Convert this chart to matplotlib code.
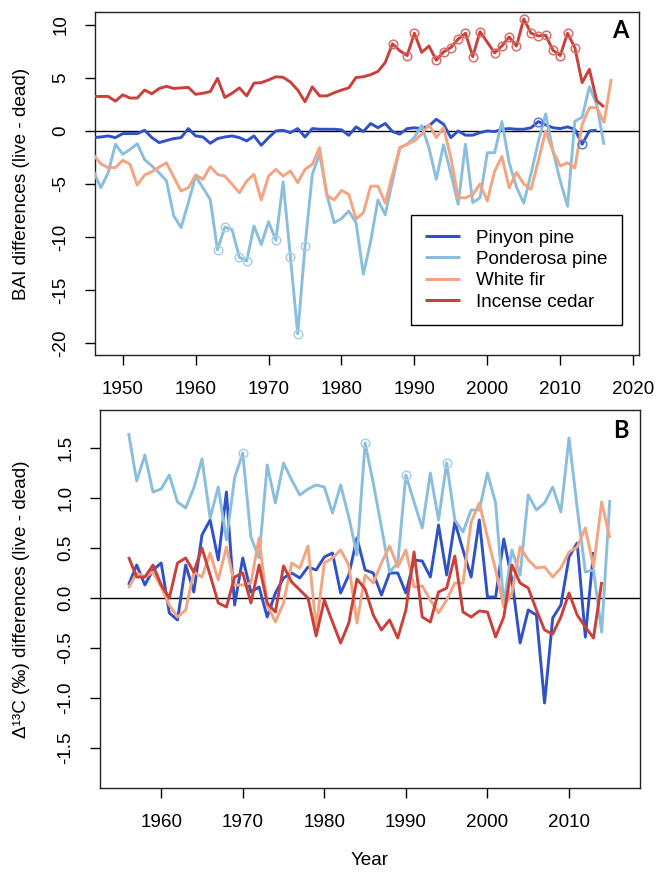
import numpy as np
import matplotlib
matplotlib.use('Agg')
import matplotlib.pyplot as plt

plt.rcParams['font.family'] = ['Liberation Sans', 'DejaVu Sans']
plt.rcParams['axes.unicode_minus'] = False

# ---------------- Panel A data: BAI differences (live - dead) ----------------
pinyon_a_start = 1946
pinyon_a = [-0.63, -0.57, -0.47, -0.63, -0.25, -0.25, -0.25, 0.06, -0.63, -1.1,
            -0.9, -0.72, -0.63, 0.22, -0.47, -0.57, -1.16, -0.72, -0.57, -0.47,
            -0.63, -0.94, -0.47, -1.35, -0.63, 0.0, 0.06, -0.16, 0.22, -0.57,
            0.22, 0.16, 0.16, 0.16, 0.1, -0.41, 0.38, -0.06, 0.7, 0.3,
            0.7, -0.06, -0.3, 0.22, 0.3, 0.22, 0.47, 1.1, 0.63, -0.63,
            0.0, -0.4, -0.4, -0.16, 0.0, -0.06, 0.16, 0.22, 0.16, 0.16,
            0.3, 0.88, 0.57, 0.3, 0.22, 0.38, 0.16, -1.26, 0.0, 0.06]
pinyon_a_sig = [2007, 2013]

ponderosa_a_start = 1946
ponderosa_a = [-3.8, -5.35, -3.95, -1.25, -2.2, -1.75, -1.2, -2.7, -3.3, -3.95,
               -4.7, -8.0, -9.1, -6.75, -4.25, -5.35, -6.45, -11.2, -9.05, -9.3,
               -11.9, -12.25, -8.95, -10.7, -8.55, -10.3, -4.8, -11.9, -19.1, -10.85,
               -4.1, -2.15, -6.0, -8.65, -8.25, -7.55, -8.65, -13.5, -10.4, -6.5,
               -7.9, -4.7, -1.6, -1.25, -0.6, 0.5, -1.6, -4.55, -1.3, -4.0,
               -6.9, -1.25, -6.75, -6.3, -2.05, -2.05, 0.88, -3.0, -5.3, -6.8,
               -4.0, -1.0, 1.6, -1.9, -4.7, -7.1, 0.9, 1.3, 4.15, 2.5, -1.3]
ponderosa_a_sig = [1963, 1964, 1966, 1967, 1971, 1973, 1974, 1975]

whitefir_a_start = 1946
whitefir_a = [-2.26, -3.1, -3.45, -3.45, -2.77, -3.14, -5.1, -4.15, -3.84, -3.4,
              -3.0, -4.34, -5.66, -5.35, -4.15, -4.56, -3.36, -4.09, -4.25, -5.03,
              -5.82, -4.72, -4.09, -6.5, -4.25, -3.62, -4.25, -3.77, -4.87, -3.62,
              -3.14, -1.57, -6.07, -6.5, -5.6, -5.97, -8.3, -7.7, -5.2, -5.2,
              -6.8, -4.1, -1.57, -1.26, -0.94, -0.3, 0.6, -0.63, 0.3, -2.5,
              -6.3, -6.3, -6.0, -5.0, -6.6, -3.8, -2.4, -5.35, -3.9, -5.0,
              -5.5, -2.8, 0.0, -1.9, -3.3, -3.0, -3.5, 0.6, 2.2, 2.2, 0.8, 4.9]

cedar_a_start = 1946
cedar_a = [3.25, 3.25, 3.25, 2.8, 3.4, 3.1, 3.1, 3.85, 3.5, 4.0,
           4.2, 4.0, 4.05, 4.1, 3.45, 3.55, 3.7, 4.95, 3.15, 3.55,
           4.05, 3.3, 4.5, 4.55, 4.8, 5.1, 5.05, 4.6, 3.85, 2.75,
           4.15, 3.3, 3.3, 3.6, 3.85, 4.05, 5.03, 5.1, 5.3, 5.6,
           6.45, 8.2, 7.55, 7.1, 9.2, 7.4, 8.0, 6.65, 7.45, 7.85,
           8.65, 9.2, 7.0, 9.35, 8.35, 7.35, 8.0, 8.85, 8.0, 10.55,
           9.2, 8.95, 9.0, 7.6, 7.1, 9.2, 7.85, 4.55, 5.8, 2.85, 2.25]
cedar_a_sig = [1987, 1989, 1990, 1993, 1994, 1995, 1996, 1997, 1998, 1999,
               2001, 2002, 2003, 2004, 2005, 2006, 2007, 2008, 2009, 2010,
               2011, 2012]

# ---------------- Panel B data: Delta13C differences (live - dead) ----------------
pinyon_b_start = 1956
pinyon_b = [0.13, 0.33, 0.13, 0.28, 0.35, -0.15, -0.22, 0.33, 0.06, 0.63,
            0.78, 0.38, 1.06, -0.07, 0.4, 0.06, 0.11, -0.19, 0.05, 0.2,
            0.25, 0.2, 0.31, 0.28, 0.41, 0.45, 0.05, 0.23, 0.6, 0.28,
            0.25, 0.03, 0.25, 0.25, 0.05, 0.38, 0.37, 0.21, 0.73, 0.23,
            0.76, 0.48, 0.21, 0.78, 0.01, 0.01, 0.59, 0.18, -0.45, -0.12,
            -0.17, -1.05, -0.2, -0.07, 0.41, 0.55, -0.39, 0.46]

ponderosa_b_start = 1956
ponderosa_b = [1.65, 1.17, 1.43, 1.06, 1.09, 1.23, 0.96, 0.9, 1.1, 1.39,
               0.8, 1.11, 0.58, 1.2, 1.45, 0.61, 0.4, 1.33, 0.95, 1.35,
               1.18, 1.03, 1.09, 1.13, 1.11, 0.85, 1.13, 0.81, 0.43, 1.55,
               1.15, 0.71, 0.26, 0.35, 1.23, 0.96, 0.7, 1.25, 0.78, 1.35,
               0.78, 0.66, 0.88, 0.88, 1.25, 0.95, -0.07, 0.48, 0.23, 1.03,
               0.88, 0.95, 1.11, 0.86, 1.6, 0.9, 0.26, 0.28, -0.34, 0.98]
ponderosa_b_sig = [1970, 1985, 1990, 1995]

whitefir_b_start = 1956
whitefir_b = [0.1, 0.25, 0.21, 0.26, 0.11, -0.07, -0.19, -0.12, 0.26, 0.21,
              0.45, 0.18, 0.51, 0.13, 0.13, 0.15, 0.6, -0.07, -0.24, -0.05,
              0.35, 0.3, 0.52, -0.3, 0.35, 0.4, 0.48, 0.33, -0.25, 0.23,
              0.15, 0.35, 0.52, 0.31, 0.48, 0.11, 0.12, -0.02, -0.15, -0.02,
              0.15, 0.15, 0.76, 0.95, 0.61, 0.28, -0.09, 0.05, 0.51, 0.38,
              0.3, 0.31, 0.21, 0.3, 0.46, 0.51, 0.7, 0.31, 0.96, 0.6]

cedar_b_start = 1956
cedar_b = [0.41, 0.21, 0.21, 0.33, 0.13, 0.0, 0.35, 0.4, 0.26, 0.5,
           0.23, -0.05, -0.09, 0.21, 0.25, -0.05, 0.33, -0.05, -0.14, 0.32,
           0.16, 0.08, 0.0, -0.38, -0.02, -0.24, -0.45, -0.25, 0.19, 0.09,
           -0.17, -0.32, -0.22, -0.4, -0.12, 0.46, -0.19, -0.24, 0.06, 0.1,
           0.42, -0.14, -0.19, -0.13, -0.14, -0.39, -0.19, 0.33, 0.15, 0.1,
           -0.12, -0.32, -0.36, -0.19, 0.05, -0.17, -0.29, -0.4, 0.16]

species = ['Pinyon pine', 'Ponderosa pine', 'White fir', 'Incense cedar']
colors = ['#3152C6', '#8BBEDC', '#F3A481', '#C9413A']
marker_colors = ['#5F7BD3', '#A9CFE5', '#F5B89C', '#D8706A']

xticks_a = [1950, 1960, 1970, 1980, 1990, 2000, 2010, 2020]
yticks_a = [10, 5, 0, -5, -10, -15, -20]
xticks_b = [1960, 1970, 1980, 1990, 2000, 2010]
yticks_b = [1.5, 1.0, 0.5, 0.0, -0.5, -1.0, -1.5]

FS = 13.6
LW = 2.1

fig = plt.figure(figsize=(6.57, 8.74), dpi=100)
W, H = 657.0, 874.0
axA = fig.add_axes([95 / W, 1 - 355 / H, (639 - 95) / W, (355 - 12) / H])
axB = fig.add_axes([100 / W, 1 - 788 / H, (640 - 100) / W, (788 - 410) / H])


def draw(ax, start, vals, color, mcolor, sig=None, label=None):
    vals = np.asarray(vals, dtype=float)
    yrs = np.arange(start, start + len(vals))
    ax.plot(yrs, vals, color=color, lw=LW, solid_joinstyle='round',
            solid_capstyle='butt', label=label, zorder=3)
    if sig:
        m = np.isin(yrs, sig)
        ax.plot(yrs[m], vals[m], linestyle='none', marker='o', ms=6.2,
                mfc='none', mec=mcolor, mew=1.1, zorder=4)


def style(ax, xlim, ylim, xt, yt, ytl, ylab, letter):
    ax.set_xlim(*xlim)
    ax.set_ylim(*ylim)
    ax.set_xticks(xt)
    ax.set_yticks(yt)
    ax.set_yticklabels(ytl)
    ax.tick_params(direction='out', length=7.5, width=1.0, labelsize=FS,
                   pad=11, top=False, right=False)
    for lab in ax.get_yticklabels():
        lab.set_rotation(90)
        lab.set_va('center')
    for sp in ax.spines.values():
        sp.set_linewidth(1.0)
        sp.set_color('#222222')
    ax.axhline(0, color='black', lw=1.0, zorder=2)
    ax.set_ylabel(ylab, fontsize=FS)
    ax.text(0.965, 0.945, letter, transform=ax.transAxes, ha='center', va='center',
            fontsize=17, fontweight='bold', family=['Lato', 'DejaVu Sans'])


# Panel A
draw(axA, pinyon_a_start, pinyon_a, colors[0], marker_colors[0], pinyon_a_sig, species[0])
draw(axA, ponderosa_a_start, ponderosa_a, colors[1], marker_colors[1], ponderosa_a_sig, species[1])
draw(axA, whitefir_a_start, whitefir_a, colors[2], marker_colors[2], None, species[2])
draw(axA, cedar_a_start, cedar_a, colors[3], marker_colors[3], cedar_a_sig, species[3])
style(axA, (1946.2, 2020.8), (-21.1, 11.2), xticks_a, yticks_a,
      [str(v) for v in yticks_a], 'BAI differences (live - dead)', 'A')
axA.yaxis.set_label_coords(-0.12, 0.5)

leg = axA.legend(loc='lower right', bbox_to_anchor=(0.969, 0.0875), borderaxespad=0,
                 fontsize=FS, handlelength=1.85, handletextpad=0.85, borderpad=0.75,
                 labelspacing=0.22, fancybox=False, framealpha=1, edgecolor='black')
leg.get_frame().set_linewidth(1.0)
for ln in leg.get_lines():
    ln.set_linewidth(2.2)

# Panel B
draw(axB, pinyon_b_start, pinyon_b, colors[0], marker_colors[0])
draw(axB, ponderosa_b_start, ponderosa_b, colors[1], marker_colors[1], ponderosa_b_sig)
draw(axB, whitefir_b_start, whitefir_b, colors[2], marker_colors[2])
draw(axB, cedar_b_start, cedar_b, colors[3], marker_colors[3])
style(axB, (1952.5, 2018.7), (-1.9, 1.88), xticks_b, yticks_b,
      ['%.1f' % v for v in yticks_b], 'Δ¹³C (‰) differences (live - dead)', 'B')
axB.yaxis.set_label_coords(-0.13, 0.5)
axB.set_xlabel('Year', fontsize=FS)
axB.xaxis.set_label_coords(0.5, -0.17)

fig.savefig('out.png', dpi=100)
